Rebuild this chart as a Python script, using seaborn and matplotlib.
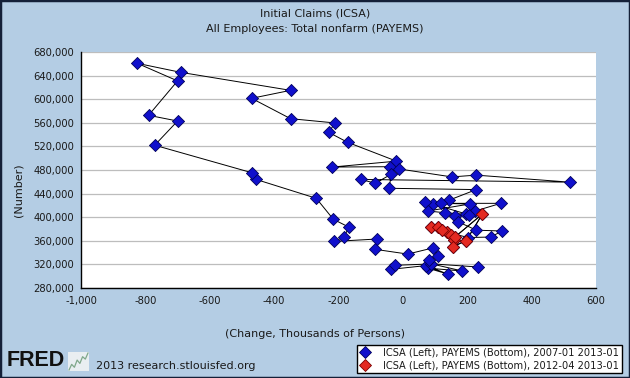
import numpy as np
import pandas as pd
import matplotlib
matplotlib.use("Agg")
import matplotlib.pyplot as plt
import seaborn as sns
from matplotlib.lines import Line2D
from matplotlib.patches import Rectangle
from matplotlib.ticker import FuncFormatter, MultipleLocator

# monthly pairs 2007-01 .. 2013-01
months = pd.date_range("2007-01-01", "2013-01-01", freq="MS")

payems_change = [
    234, 88, 185, 78, 140, 72, -36, -24, 86, 82, 110, 94,            # 2007
    15, -87, -81, -213, -184, -167, -216, -269, -456, -470, -771, -700,  # 2008
    -790, -700, -825, -690, -349, -470, -349, -210, -231, -172, -20, -219,  # 2009
    -40, -11, 152, 228, 518, -130, -86, -37, -42, 228, 144, 94,      # 2010
    68, 197, 225, 304, 118, 208, 78, 130, 205, 163, 171, 228,        # 2011
    308, 273, 203, 138, 87, 110, 151, 120, 159, 163, 247, 197,       # 2012
    156,                                                             # 2013
]

icsa = [
    315600, 321000, 308800, 313600, 303500, 318000, 311700, 318500, 320700, 327500, 334500, 348000,
    337500, 345600, 363000, 359000, 366400, 383000, 396400, 432000, 464000, 475500, 522000, 563000,
    572700, 631000, 660800, 645500, 615000, 601500, 567000, 559700, 544000, 527000, 495000, 485000,
    485600, 481700, 468300, 471300, 459400, 464000, 457500, 472600, 449000, 446800, 429000, 422400,
    426300, 405400, 410500, 423500, 423500, 422400, 410500, 407600, 404500, 401500, 392400, 378000,
    376600, 366400, 365500, 374400, 384000, 384000, 370000, 378000, 361500, 367000, 405400, 360500,
    350000,
]

legend_labels = [
    "ICSA (Left), PAYEMS (Bottom), 2007-01 2013-01",
    "ICSA (Left), PAYEMS (Bottom), 2012-04 2013-01",
]

df = pd.DataFrame({"date": months, "payems": payems_change, "icsa": icsa})
recent = df[df["date"] >= "2012-04-01"]

BG = "#B4CDE4"
BLUE = "#1010CC"
BLUE_EDGE = "#00005A"
RED = "#E42A22"
RED_EDGE = "#7A0000"

sns.set_style("white")
plt.rcParams["font.family"] = ["DejaVu Sans"]
plt.rcParams["text.color"] = "#1a1a1a"

W, H = 630, 378
fig = plt.figure(figsize=(6.3, 3.78), dpi=100, facecolor=BG)
ax = fig.add_axes([81 / W, 1 - 288 / H, (596 - 81) / W, (288 - 52) / H])
ax.set_facecolor("white")

for part, face, edge in [(df, BLUE, BLUE_EDGE), (recent, RED, RED_EDGE)]:
    sns.lineplot(data=part, x="payems", y="icsa", sort=False, estimator=None,
                 color="black", linewidth=0.7, ax=ax, zorder=2)
    sns.scatterplot(data=part, x="payems", y="icsa", marker="D", s=38,
                    color=face, edgecolor=edge, linewidth=0.6, ax=ax, zorder=3)

ax.set_xlim(-1000, 600)
ax.set_ylim(280000, 680000)
ax.xaxis.set_major_locator(MultipleLocator(200))
ax.yaxis.set_major_locator(MultipleLocator(40000))
ax.xaxis.set_major_formatter(FuncFormatter(lambda v, p: f"{int(round(v)):,}"))
ax.yaxis.set_major_formatter(FuncFormatter(lambda v, p: f"{int(round(v)):,}"))
ax.set_xlabel("")
ax.set_ylabel("")

ax.yaxis.grid(True, color="#BDBDBD", linewidth=0.9)
ax.xaxis.grid(False)
ax.get_ygridlines()[-1].set_visible(False)

for side in ["top", "right"]:
    ax.spines[side].set_visible(False)
for side in ["left", "bottom"]:
    ax.spines[side].set_color("black")
    ax.spines[side].set_linewidth(1.0)

ax.tick_params(axis="both", direction="in", length=4, width=0.8, color="black",
               labelsize=7.2, labelcolor="#1a1a1a")
ax.tick_params(axis="y", pad=5)
ax.tick_params(axis="x", pad=6)

fig.text(0.5, 1 - 13 / H, "Initial Claims (ICSA)", ha="center", va="center", fontsize=8)
fig.text(0.5, 1 - 29 / H, "All Employees: Total nonfarm (PAYEMS)", ha="center", va="center", fontsize=8)
fig.text(315 / W, 1 - 334 / H, "(Change, Thousands of Persons)", ha="center", va="center", fontsize=8)
fig.text(18 / W, 1 - 190 / H, "(Number)", ha="center", va="center", rotation=90, fontsize=8)

handles = [
    Line2D([], [], marker="D", linestyle="none", markersize=6,
           markerfacecolor=BLUE, markeredgecolor=BLUE_EDGE, markeredgewidth=0.6),
    Line2D([], [], marker="D", linestyle="none", markersize=6,
           markerfacecolor=RED, markeredgecolor=RED_EDGE, markeredgewidth=0.6),
]
leg = fig.legend(handles, legend_labels, loc="lower right",
                 bbox_to_anchor=(622 / W, 1 - 373 / H), fontsize=7.1,
                 frameon=True, fancybox=False, framealpha=1, edgecolor="black",
                 borderpad=0.3, labelspacing=0.25, handlelength=1.0,
                 handletextpad=1.3, borderaxespad=0)
leg.get_frame().set_linewidth(1.0)

# FRED logo and source line
fig.text(7 / W, 1 - 361 / H, "FRED", ha="left", va="center", fontsize=15.5,
         weight="bold", family=["Liberation Sans", "DejaVu Sans"], color="#111111")
icon_ax = fig.add_axes([68 / W, 1 - 371 / H, 21 / W, 19 / H])
icon_ax.set_facecolor("#E9EEF1")
icon_line = [1, 2.2, 1.6, 3.1, 2.4, 3.8, 3.3, 4.6]
icon_ax.plot(range(len(icon_line)), icon_line, color="#7FA88A", linewidth=0.9)
icon_ax.set_xticks([])
icon_ax.set_yticks([])
for s in icon_ax.spines.values():
    s.set_visible(False)
fig.text(96 / W, 1 - 366 / H, "2013 research.stlouisfed.org", ha="left", va="center", fontsize=8)

fig.patches.append(Rectangle((0, 0), 1, 1, transform=fig.transFigure, fill=False,
                             edgecolor="#142038", linewidth=2.5, zorder=10))

fig.savefig("out.png", dpi=100, facecolor=BG)
